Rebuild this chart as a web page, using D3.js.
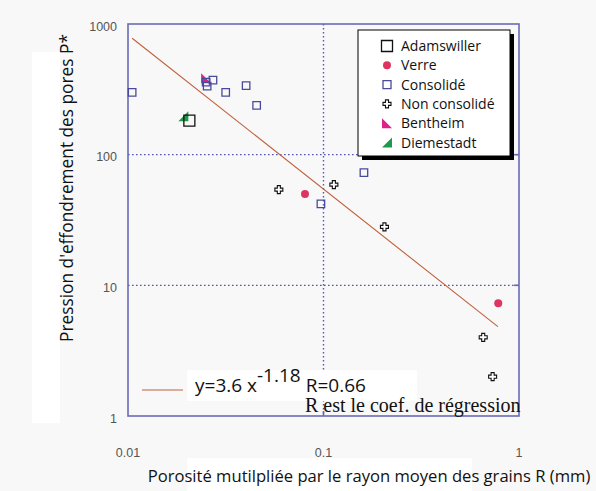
<!DOCTYPE html>
<html>
<head>
<meta charset="utf-8">
<script src="https://cdn.jsdelivr.net/npm/d3@7"></script>
<style>
  html, body { margin: 0; padding: 0; background: #f8f8f8; }
  svg { display: block; }
</style>
</head>
<body>
<svg id="chart" width="596" height="491"></svg>
<script>
// Series: [R (mm), P*]
const adamswiller   = [[0.0206, 182]];
const verre         = [[0.0804, 50], [0.783, 7.3]];
const consolide     = [[0.0105, 300], [0.0251, 359], [0.0254, 335], [0.0272, 372], [0.0316, 300],
                       [0.0402, 337], [0.0455, 238], [0.097, 42], [0.161, 73]];
const nonConsolide  = [[0.0591, 54], [0.113, 59], [0.205, 28], [0.656, 4.0], [0.733, 2.0]];
const bentheim      = [[0.0251, 384]];
const diemestadt    = [[0.0192, 197]];

const legendLabels  = ["Adamswiller", "Verre", "Consolidé", "Non consolidé", "Bentheim", "Diemestadt"];
const xTicks        = [0.01, 0.1, 1];
const xTickLabels   = ["0.01", "0.1", "1"];
const yTicks        = [1, 10, 100, 1000];
const yTickLabels   = ["1", "10", "100", "1000"];

// Power-law fit y = a x^b over the plotted range
const fitA = 3.6, fitB = -1.18;
const fitR = 0.66;
const fitRange = [0.0105, 0.78];

const svg = d3.select("#chart");
const plotLeft = 128, plotRight = 519, plotTop = 24, plotBottom = 416;

const x = d3.scaleLog().domain([0.01, 1]).range([plotLeft, plotRight]);
const y = d3.scaleLog().domain([1, 1000]).range([plotBottom, plotTop]);

const frameColor = "#6a6ab4";

// Light panels behind the titles
svg.append("rect").attr("x", 32).attr("y", 52).attr("width", 28).attr("height", 371).attr("fill", "#fff");
svg.append("rect").attr("x", 187).attr("y", 458).attr("width", 285).attr("height", 33).attr("fill", "#fff");

// Dotted grid at the middle decades
const grid = svg.append("g").attr("stroke", "#5656b4").attr("stroke-width", 1.4).attr("stroke-dasharray", "1.6,2.4");
grid.selectAll("line.h").data([10, 100]).join("line").attr("class", "h")
  .attr("x1", plotLeft).attr("x2", plotRight).attr("y1", d => y(d)).attr("y2", d => y(d));
grid.selectAll("line.v").data([0.1]).join("line").attr("class", "v")
  .attr("x1", d => x(d)).attr("x2", d => x(d)).attr("y1", plotTop).attr("y2", plotBottom);

// Frame
svg.append("rect").attr("x", plotLeft).attr("y", plotTop)
  .attr("width", plotRight - plotLeft).attr("height", plotBottom - plotTop)
  .attr("fill", "none").attr("stroke", frameColor).attr("stroke-width", 1.6);

// Inner tick marks on the right side and bottom
svg.append("g").selectAll("line").data([10, 100]).join("line")
  .attr("x1", plotRight - 5).attr("x2", plotRight).attr("y1", d => y(d)).attr("y2", d => y(d))
  .attr("stroke", frameColor).attr("stroke-width", 1.6);
svg.append("line").attr("x1", x(0.1)).attr("x2", x(0.1)).attr("y1", plotBottom - 5).attr("y2", plotBottom)
  .attr("stroke", frameColor).attr("stroke-width", 1.6);

// Tick labels
const tickFont = "'Liberation Sans', Arial, sans-serif";
svg.append("g").selectAll("text").data(xTicks).join("text")
  .attr("x", d => x(d)).attr("y", 457).attr("text-anchor", "middle")
  .attr("font-family", tickFont).attr("font-size", 12.5).attr("fill", "#555")
  .text((d, i) => xTickLabels[i]);
svg.append("g").selectAll("text").data(yTicks).join("text")
  .attr("x", 117).attr("y", d => y(d) + 6.5).attr("text-anchor", "end")
  .attr("font-family", tickFont).attr("font-size", 12.5).attr("fill", "#555")
  .text((d, i) => yTickLabels[i]);

// Axis titles
const titleFont = "'Open Sans', 'Noto Sans', sans-serif";
svg.append("text").attr("x", 369).attr("y", 482).attr("text-anchor", "middle")
  .attr("font-family", titleFont).attr("font-size", 16.6).attr("fill", "#111")
  .text("Porosité mutilpliée par le rayon moyen des grains R (mm)");
svg.append("text").attr("transform", "translate(73,188) rotate(-90)").attr("text-anchor", "middle")
  .attr("font-family", titleFont).attr("font-size", 17.3).attr("fill", "#111")
  .text("Pression d'effondrement des pores P*");

// Regression line
const fitLine = d3.line().x(d => x(d)).y(d => y(fitA * Math.pow(d, fitB)));
svg.append("path").datum(fitRange).attr("d", fitLine)
  .attr("fill", "none").attr("stroke", "#c0603c").attr("stroke-width", 1.1);

// Marker shapes
function shapePath(kind, s) {
  const h = s / 2;
  switch (kind) {
    case "square": return `M${-h},${-h}H${h}V${h}H${-h}Z`;
    case "circle": return d3.symbol(d3.symbolCircle, Math.PI * h * h)();
    case "cross": {
      const a = s * 0.19;
      return `M${-a},${-h}H${a}V${-a}H${h}V${a}H${a}V${h}H${-a}V${a}H${-h}V${-a}H${-a}Z`;
    }
    case "triLeft": return `M${-h},${-h}L${h},${h}H${-h}Z`;
    case "triRight": return `M${h},${-h}V${h}H${-h}Z`;
  }
}

const seriesDefs = [
  { data: adamswiller,  kind: "square",   size: 11, fill: "none",    stroke: "#111",    sw: 1.3, lsize: 11 },
  { data: verre,        kind: "circle",   size: 8,  fill: "#dd3562", stroke: "none",    sw: 0,   lsize: 8 },
  { data: consolide,    kind: "square",   size: 7.5,fill: "none",    stroke: "#4a4a9c", sw: 1.3, lsize: 8 },
  { data: nonConsolide, kind: "cross",    size: 8,  fill: "#fff",    stroke: "#111",    sw: 1.1, lsize: 8 },
  { data: bentheim,     kind: "triLeft",  size: 10, fill: "#e0208a", stroke: "none",    sw: 0,   lsize: 10 },
  { data: diemestadt,   kind: "triRight", size: 10, fill: "#1f9a4c", stroke: "none",    sw: 0,   lsize: 10 }
];

// Draw order: filled shapes under the open squares
const drawOrder = [4, 5, 1, 3, 2, 0];
drawOrder.forEach(i => {
  const s = seriesDefs[i];
  svg.append("g").selectAll("path").data(s.data).join("path")
    .attr("transform", d => `translate(${x(d[0])},${y(d[1])})`)
    .attr("d", shapePath(s.kind, s.size))
    .attr("fill", s.fill).attr("stroke", s.stroke).attr("stroke-width", s.sw);
});

// Legend box with drop shadow
const lg = { x: 358, y: 30, w: 152, h: 126 };
svg.append("rect").attr("x", lg.x + 4).attr("y", lg.y + 4).attr("width", lg.w).attr("height", lg.h).attr("fill", "#000");
svg.append("rect").attr("x", lg.x).attr("y", lg.y).attr("width", lg.w).attr("height", lg.h)
  .attr("fill", "#fff").attr("stroke", "#000").attr("stroke-width", 1);
const rowY = d3.scaleLinear().domain([0, 5]).range([46, 142.5]);
seriesDefs.forEach((s, i) => {
  svg.append("path").attr("transform", `translate(387,${rowY(i)})`)
    .attr("d", shapePath(s.kind, s.lsize))
    .attr("fill", s.fill).attr("stroke", s.stroke).attr("stroke-width", s.sw);
  svg.append("text").attr("x", 401).attr("y", rowY(i) + 5)
    .attr("font-family", titleFont).attr("font-size", 14).attr("fill", "#111")
    .text(legendLabels[i]);
});

// Fit legend
svg.append("rect").attr("x", 187).attr("y", 370).attr("width", 230).attr("height", 31).attr("fill", "#fff");
svg.append("line").attr("x1", 142).attr("x2", 183).attr("y1", 390).attr("y2", 390)
  .attr("stroke", "#c0603c").attr("stroke-width", 1.2);
const eq = svg.append("text").attr("x", 195).attr("y", 392)
  .attr("font-family", titleFont).attr("font-size", 19).attr("fill", "#111");
eq.append("tspan").text(`y=${fitA} x`);
eq.append("tspan").attr("dy", -10).text(String(fitB));
eq.append("tspan").attr("dy", 10).attr("dx", 5).text(`R=${fitR}`);

svg.append("text").attr("x", 305).attr("y", 412)
  .attr("font-family", "'Liberation Serif', 'Times New Roman', serif").attr("font-size", 20).attr("fill", "#111")
  .text("R est le coef. de régression");
</script>
</body>
</html>
